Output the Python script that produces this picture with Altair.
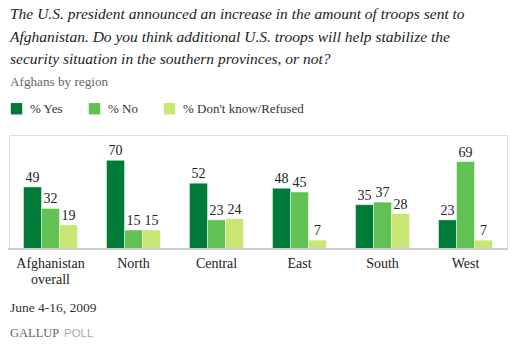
import altair as alt
import pandas as pd

regions = ["Afghanistan overall", "North", "Central", "East", "South", "West"]
series = ["% Yes", "% No", "% Don't know/Refused"]
yes_vals = [49, 70, 52, 48, 35, 23]
no_vals = [32, 15, 23, 45, 37, 69]
dk_vals = [19, 15, 24, 7, 28, 7]
colors = ["#007A37", "#62C153", "#C8E673"]

title_lines = [
    "The U.S. president announced an increase in the amount of troops sent to",
    "Afghanistan. Do you think additional U.S. troops will help stabilize the",
    "security situation in the southern provinces, or not?",
]
subtitle = "Afghans by region"
date_text = "June 4-16, 2009"

rows = []
for i, r in enumerate(regions):
    for s, vals in zip(series, [yes_vals, no_vals, dk_vals]):
        rows.append({"region": r, "series": s, "value": vals[i]})
df = pd.DataFrame(rows)
one = pd.DataFrame({"k": [0]})

SERIF = "Liberation Serif"

x_enc = alt.X(
    "region:N",
    sort=regions,
    scale=alt.Scale(paddingInner=0.35, paddingOuter=0.175),
    axis=alt.Axis(
        title=None, labelAngle=0, domain=False, ticks=False,
        labelFont=SERIF, labelFontSize=14, labelColor="#222222",
        labelPadding=7, labelExpr="split(datum.label, ' ')", labelLineHeight=16,
    ),
)
y_enc = alt.Y("value:Q", scale=alt.Scale(domain=[0, 90]), axis=None)
off = alt.XOffset("series:N", sort=series)

base = alt.Chart(df)

bars = base.mark_bar(stroke="#ffffff", strokeOpacity=0.45, strokeWidth=1).encode(
    x=x_enc, y=y_enc, xOffset=off,
    color=alt.Color(
        "series:N", sort=series,
        scale=alt.Scale(domain=series, range=colors),
        legend=alt.Legend(
            title=None, orient="none", direction="horizontal",
            legendX=1, legendY=-33, symbolType="square", symbolSize=130,
            symbolStrokeWidth=0, labelFont=SERIF, labelFontSize=13,
            labelColor="#333333", columnPadding=25, labelOffset=7,
        ),
    ),
)

labels = base.mark_text(
    dy=-5, baseline="alphabetic", font=SERIF, fontSize=14, color="#222222"
).encode(x=x_enc, y=y_enc, xOffset=off, text="value:Q")

ann = alt.Chart(one)

axis_line = ann.mark_rule(color="#CCCCCC", strokeWidth=2).encode(
    x=alt.value(-1), x2=alt.value(499), y=alt.value(114)
)

title = ann.mark_text(
    align="left", baseline="alphabetic", font=SERIF, fontStyle="italic",
    fontSize=15.5, color="#222222", lineHeight=22.5,
).encode(x=alt.value(1), y=alt.value(-116), text=alt.value(title_lines))

sub = ann.mark_text(
    align="left", baseline="alphabetic", font=SERIF, fontSize=13.2, color="#666666"
).encode(x=alt.value(1), y=alt.value(-49), text=alt.value(subtitle))

date = ann.mark_text(
    align="left", baseline="alphabetic", font=SERIF, fontSize=13.5, color="#333333"
).encode(x=alt.value(1), y=alt.value(177), text=alt.value(date_text))

gallup = ann.mark_text(
    align="left", baseline="alphabetic", font=SERIF, fontSize=12.5, color="#666666"
).encode(x=alt.value(1), y=alt.value(202), text=alt.value("GALLUP"))

poll = ann.mark_text(
    align="left", baseline="alphabetic", font="Liberation Sans", fontSize=11.5, color="#aaaaaa"
).encode(x=alt.value(55), y=alt.value(202), text=alt.value("POLL"))

chart = alt.layer(
    bars, labels, axis_line, title, sub, date, gallup, poll
).properties(
    width=498, height=114,
    autosize=alt.AutoSizeParams(type="none"),
    padding={"left": 9, "top": 135, "right": 7, "bottom": 105},
).configure_view(stroke=None).configure(background="white")

chart.save("out.html", embed_options={"renderer": "svg", "actions": False})
